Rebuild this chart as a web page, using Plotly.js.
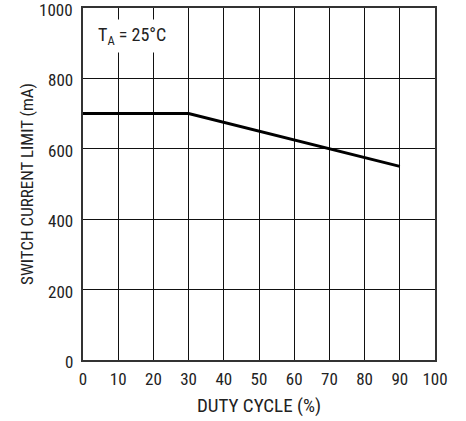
<!DOCTYPE html>
<html>
<head>
<meta charset="utf-8">
<script src="https://cdn.plot.ly/plotly-3.0.1.min.js"></script>
<style>html,body{margin:0;padding:0;background:#fff;}#chart{width:466px;height:421px;}</style>
</head>
<body>
<div id="chart"></div>
<script>
const dutyCycle = [0, 30, 90];
const currentLimit = [700, 700, 550];
const xTicks = [0, 10, 20, 30, 40, 50, 60, 70, 80, 90, 100];
const yTicks = [0, 200, 400, 600, 800, 1000];
const annotationText = 'T<sub>A</sub> = 25°C';
const xTitle = 'DUTY CYCLE (%)';
const yTitle = 'SWITCH CURRENT LIMIT (mA)';

const fam = '"Roboto Condensed", "Liberation Sans", Arial, sans-serif';
const font = {family: fam, size: 17, color: '#222'};

const data = [{
  x: dutyCycle, y: currentLimit, type: 'scatter', mode: 'lines',
  line: {color: '#000', width: 3}, hoverinfo: 'skip'
}];

// y tick labels drawn at the axis scale positions, nudged slightly down as in the reference
const yTickLabels = yTicks.map(v => ({
  xref: 'paper', yref: 'y', x: 0, y: v,
  xanchor: 'right', yanchor: 'middle', xshift: -8, yshift: -2,
  text: String(v), showarrow: false,
  font: font
}));

const layout = {
  width: 466, height: 421,
  margin: {l: 83, r: 31, t: 8, b: 61},
  paper_bgcolor: '#fff', plot_bgcolor: '#fff',
  font: font,
  showlegend: false,
  xaxis: {
    range: [0, 100], tickvals: xTicks, ticktext: xTicks.map(String),
    showgrid: true, gridcolor: '#111', gridwidth: 1,
    showline: true, linecolor: '#333', linewidth: 2, mirror: true,
    zeroline: false, ticks: '', ticklen: 0,
    ticklabelstandoff: 3, ticklabeloverflow: 'allow',
    title: {text: xTitle, font: {family: fam, size: 19, color: '#222'}, standoff: 10},
    fixedrange: true
  },
  yaxis: {
    range: [0, 1000], tickvals: yTicks,
    showticklabels: false,
    showgrid: true, gridcolor: '#111', gridwidth: 1,
    showline: true, linecolor: '#333', linewidth: 2, mirror: true,
    zeroline: false, ticks: '', ticklen: 0,
    title: {text: yTitle, font: {family: fam, size: 17, color: '#222'}, standoff: 43},
    fixedrange: true
  },
  annotations: yTickLabels.concat([{
    xref: 'paper', yref: 'paper', x: 0.028, y: 0.92,
    xanchor: 'left', yanchor: 'middle',
    text: annotationText, showarrow: false,
    bgcolor: '#fff', borderpad: 4,
    font: {family: fam, size: 18, color: '#222'}
  }])
};

Plotly.newPlot('chart', data, layout, {displayModeBar: false, staticPlot: true});
</script>
</body>
</html>
